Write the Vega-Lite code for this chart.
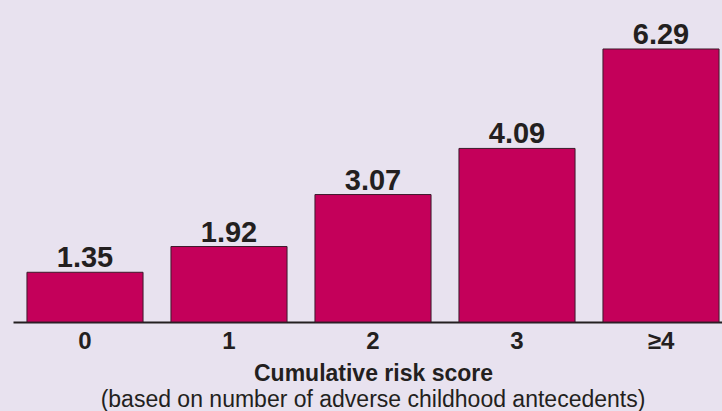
{
  "$schema": "https://vega.github.io/schema/vega-lite/v6.json",
  "autosize": "none",
  "width": 720,
  "height": 322,
  "padding": {"left": 13, "top": 0, "right": 0, "bottom": 89},
  "background": "#e8e2ef",
  "data": {"values": [
    {"score": "0", "value": 1.35},
    {"score": "1", "value": 1.92},
    {"score": "2", "value": 3.07},
    {"score": "3", "value": 4.09},
    {"score": "≥4", "value": 6.29}
  ]},
  "title": {
    "text": "(based on number of adverse childhood antecedents)",
    "orient": "bottom",
    "anchor": "middle",
    "font": "Liberation Sans",
    "fontSize": 23,
    "fontWeight": "normal",
    "color": "#231f20",
    "offset": 4
  },
  "encoding": {
    "x": {
      "field": "score",
      "type": "nominal",
      "sort": null,
      "scale": {"paddingInner": 0.194, "paddingOuter": 0.097},
      "axis": {
        "title": "Cumulative risk score",
        "titleFont": "Liberation Sans",
        "titleFontSize": 23,
        "titleFontWeight": "bold",
        "titleColor": "#231f20",
        "titlePadding": 9,
        "labelAngle": 0,
        "labelFont": "Liberation Sans",
        "labelFontSize": 24,
        "labelFontWeight": "bold",
        "labelColor": "#231f20",
        "labelPadding": 7,
        "ticks": false,
        "domainColor": "#231f20",
        "domainWidth": 2,
        "grid": false
      }
    },
    "y": {
      "field": "value",
      "type": "quantitative",
      "scale": {"domain": [0.25, 7.374], "zero": false, "nice": false},
      "axis": null
    }
  },
  "layer": [
    {
      "mark": {"type": "bar", "color": "#c4005a", "stroke": "#3d1a2c", "strokeWidth": 1},
      "encoding": {"y2": {"datum": 0.25}}
    },
    {
      "mark": {"type": "text", "baseline": "alphabetic", "dy": -5, "font": "Liberation Sans", "fontSize": 29, "fontWeight": "bold", "color": "#231f20"},
      "encoding": {"text": {"field": "value", "type": "quantitative", "format": ".2f"}}
    }
  ],
  "config": {"view": {"stroke": null}}
}
